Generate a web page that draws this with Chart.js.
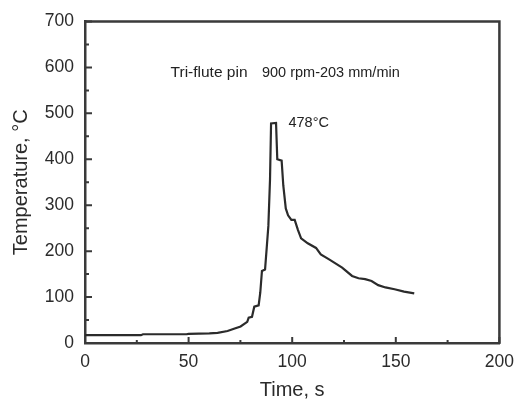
<!DOCTYPE html>
<html>
<head>
<meta charset="utf-8">
<script src="https://cdn.jsdelivr.net/npm/chart.js@4"></script>
<style>
  html, body { margin: 0; padding: 0; background: #fff; }
  #wrap { width: 523px; height: 402px; position: relative; }
</style>
</head>
<body>
<div id="wrap"><canvas id="c" width="523" height="402"></canvas></div>
<script>
// ---- data ----
const timeValues = [0, 27, 28, 49, 50, 60, 64, 68.8, 71.9, 75.1, 78.3, 79, 80.6, 81.7, 83.8, 84.6, 85.4, 86.9, 87.7, 88.5, 89.3, 89.8, 92.2, 92.8, 94.9, 95.7, 96.9, 98, 99.6, 101.2, 102.8, 104.3, 107.5, 111.5, 113.8, 117.8, 124.1, 128.9, 132, 135.2, 138.3, 141.5, 145, 149.4, 154, 158.9];
const tempValues = [17, 17, 19, 19, 20, 21, 22, 26, 31, 36, 46, 55, 57, 79, 82, 110, 157, 160, 207, 255, 357, 478, 479, 400, 397, 343, 293, 278, 268, 268, 246, 228, 217, 207, 193, 182, 164, 146, 141, 139, 135, 126, 121, 117, 112, 108];
const xTickLabels = [0, 50, 100, 150, 200];
const yTickLabels = [0, 100, 200, 300, 400, 500, 600, 700];
const xMinorTicks = [25, 75, 125, 175];
const yMinorTicks = [50, 150, 250, 350, 450, 550, 650];
const annotations = [
  { text: 'Tri-flute pin', x: 41.3, y: 580, size: 15.5 },
  { text: '900 rpm-203 mm/min', x: 85.4, y: 580, size: 14.5 },
  { text: '478°C', x: 98.2, y: 470, size: 14.5 }
];

const FONT = "'Liberation Sans', Arial, sans-serif";
const AXIS = '#3a3a3a';

const points = timeValues.map((t, i) => ({ x: t, y: tempValues[i] }));

const framePlugin = {
  id: 'frame',
  afterDraw(chart) {
    const { ctx, chartArea: a, scales: { x, y } } = chart;
    ctx.save();
    ctx.strokeStyle = AXIS;
    ctx.lineWidth = 2.5;
    ctx.beginPath();
    ctx.moveTo(a.left - 1, a.top);
    ctx.lineTo(a.right, a.top);
    ctx.lineTo(a.right, a.bottom + 1);
    ctx.stroke();
    // inward ticks
    ctx.lineWidth = 2;
    ctx.beginPath();
    xTickLabels.forEach(v => { const px = x.getPixelForValue(v); ctx.moveTo(px, a.bottom); ctx.lineTo(px, a.bottom - 6); });
    xMinorTicks.forEach(v => { const px = x.getPixelForValue(v); ctx.moveTo(px, a.bottom); ctx.lineTo(px, a.bottom - 3); });
    yTickLabels.forEach(v => { const py = y.getPixelForValue(v); ctx.moveTo(a.left, py); ctx.lineTo(a.left + 7, py); });
    yMinorTicks.forEach(v => { const py = y.getPixelForValue(v); ctx.moveTo(a.left, py); ctx.lineTo(a.left + 4, py); });
    ctx.stroke();
    // annotations
    ctx.fillStyle = '#222';
    ctx.textBaseline = 'alphabetic';
    ctx.textAlign = 'left';
    annotations.forEach(an => {
      ctx.font = an.size + 'px ' + FONT;
      ctx.fillText(an.text, x.getPixelForValue(an.x), y.getPixelForValue(an.y));
    });
    ctx.restore();
  }
};

new Chart(document.getElementById('c'), {
  type: 'line',
  data: {
    datasets: [{
      data: points,
      borderColor: '#2b2b2b',
      borderWidth: 2.2,
      pointRadius: 0,
      tension: 0,
      fill: false
    }]
  },
  options: {
    responsive: false,
    animation: false,
    devicePixelRatio: 1,
    layout: { padding: { top: 17, right: 16, left: 0, bottom: 0 } },
    plugins: { legend: { display: false }, tooltip: { enabled: false } },
    scales: {
      x: {
        type: 'linear',
        min: 0, max: 200,
        afterBuildTicks(s) { s.ticks = xTickLabels.map(v => ({ value: v })); },
        afterFit(s) { s.height = 59; },
        ticks: { color: '#2b2b2b', padding: 9, maxRotation: 0, font: { family: FONT, size: 17.5 } },
        grid: { display: true, drawOnChartArea: false, drawTicks: false },
        border: { display: true, color: AXIS, width: 2.5 },
        title: { display: true, text: 'Time, s', color: '#2b2b2b', padding: { top: 0, bottom: 0 }, font: { family: FONT, size: 20 } }
      },
      y: {
        type: 'linear',
        min: 0, max: 700,
        afterBuildTicks(s) { s.ticks = yTickLabels.map(v => ({ value: v })); },
        afterFit(s) { s.width = 85; },
        ticks: { color: '#2b2b2b', padding: 11, font: { family: FONT, size: 17.5 } },
        grid: { display: true, drawOnChartArea: false, drawTicks: false },
        border: { display: true, color: AXIS, width: 2.5 },
        title: { display: true, text: 'Temperature, °C', color: '#2b2b2b', padding: { top: 9, bottom: 0 }, font: { family: FONT, size: 20 } }
      }
    }
  },
  plugins: [framePlugin]
});
</script>
</body>
</html>
